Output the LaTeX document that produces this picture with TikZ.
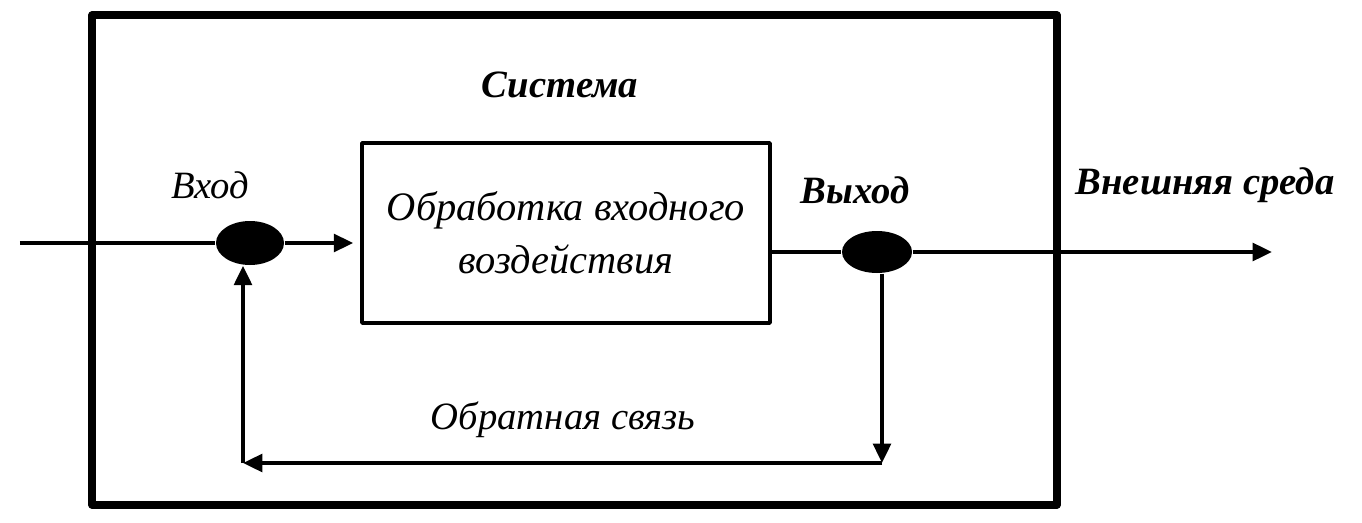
\documentclass[tikz,border=0pt]{standalone}
\usepackage{fontspec}
\setmainfont{Liberation Serif}
\usetikzlibrary{arrows.meta,shapes.geometric}

\tikzset{
    line/.style={line width=1.1pt},
    junc/.style={ellipse, fill=black, inner sep=0pt},
    lbl/.style={font=\fontsize{11}{13}\selectfont\itshape},
    blbl/.style={font=\fontsize{11}{13}\selectfont\bfseries\itshape},
}

\begin{document}
\begin{tikzpicture}[>={Triangle[length=5.5pt,width=5pt]}, line join=round]
    \useasboundingbox (0,0) rectangle (13.62,5.22);

    % система (внешняя рамка)
    \draw[line width=2pt] (0.92,0.17) rectangle (10.57,5.07);
    \node[blbl] (sys) at (5.60,4.37) {Система};

    % блок обработки
    \node[draw, line width=1pt, minimum width=4.08cm, minimum height=1.80cm,
          align=center, lbl, font=\fontsize{11.5}{13}\selectfont\itshape]
          (proc) at (5.66,2.89) {Обработка входного\\[2pt]воздействия};

    % узлы входа и выхода
    \node[junc, minimum width=0.68cm, minimum height=0.44cm] (inJ) at (2.50,2.79) {};
    \node[junc, minimum width=0.70cm, minimum height=0.42cm] (outJ) at (8.77,2.70) {};

    \coordinate (src) at (0.20,2.79);
    \coordinate (env) at (12.72,2.70);
    \coordinate (fbR) at (8.82,0.59);
    \coordinate (fbL) at (2.43,0.59);

    % прямая цепь
    \draw[line] (src) -- (inJ);
    \draw[line, ->, shorten >=2pt] (inJ) -- (proc.west |- inJ);
    \draw[line] (proc.east |- outJ) -- (outJ);
    \draw[line, ->] (outJ) -- (env);

    % обратная связь
    \draw[line, ->] (outJ.south -| fbR) -- (fbR);
    \draw[line, ->] (fbR) -- (fbL);
    \draw[line, ->] (fbL) -- (fbL |- inJ.south);

    % подписи
    \node[lbl] (inL) at (2.10,3.37) {Вход};
    \node[blbl] (outL) at (8.55,3.32) {Выход};
    \node[blbl] (envL) at (12.05,3.37) {Внешняя среда};
    \node[lbl] (fbLbl) at (5.63,1.02) {Обратная связь};
\end{tikzpicture}
\end{document}
